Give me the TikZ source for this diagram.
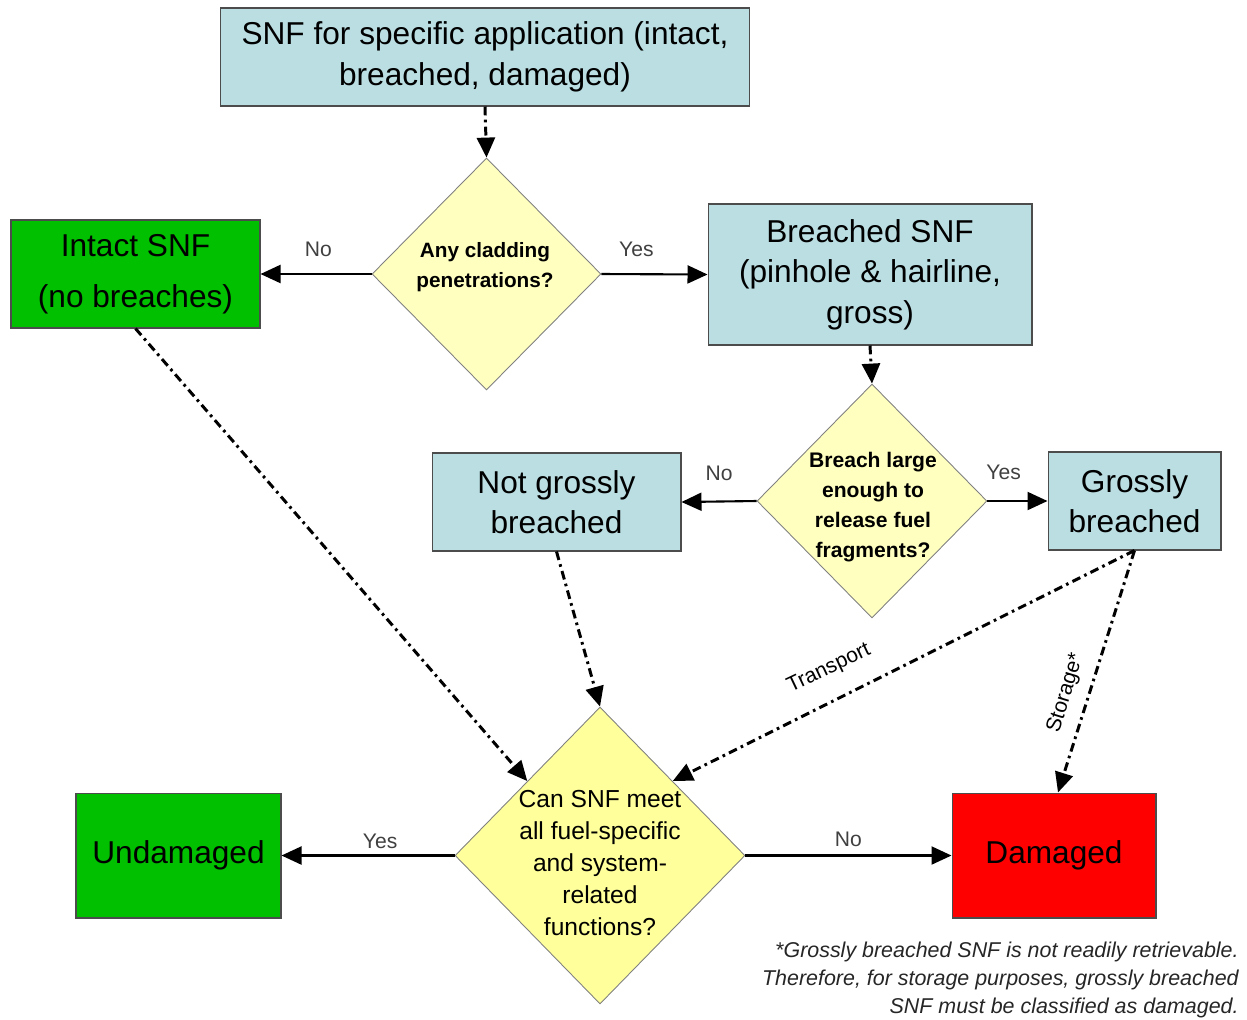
\documentclass[tikz,border=0pt]{standalone}
\usepackage{fontspec}
\setmainfont{Liberation Sans}
\usepackage{tikz}
\usetikzlibrary{arrows.meta,shapes.geometric}

\definecolor{snfblue}{RGB}{186,222,226}
\definecolor{snfgreen}{RGB}{0,192,0}
\definecolor{snfred}{RGB}{255,0,0}
\definecolor{paleyellow}{RGB}{255,255,192}
\definecolor{qyellow}{RGB}{255,255,155}

\begin{document}
\begin{tikzpicture}[x=0.02cm, y=-0.02cm,
    box/.style={draw=black!70, line width=0.6pt, inner sep=0pt, align=center,
                font=\fontsize{18}{23}\selectfont},
    dia/.style={diamond, draw=black!50, line width=0.5pt, inner sep=0pt},
    qtext/.style={align=center, inner sep=0pt},
    yn/.style={text=black!75, font=\fontsize{12}{14}\selectfont},
    flow/.style={line width=1.2pt, -{Triangle[length=0.4cm, width=0.36cm]}},
    dotflow/.style={flow, line width=1.7pt, dash pattern=on 5pt off 2.5pt on 1.5pt off 2.5pt},
]

\useasboundingbox (0,0) rectangle (1247,1019);

% boxes
\node[box, fill=snfblue, minimum width=10.6cm, minimum height=1.96cm] (snf) at (485,57)
    {SNF for specific application (intact,\\breached, damaged)};
\node[box, fill=snfgreen, minimum width=4.98cm, minimum height=2.16cm,
      font=\fontsize{18}{29}\selectfont] (intact) at (135.5,274) {Intact SNF\\(no breaches)};
\node[box, fill=snfblue, minimum width=6.48cm, minimum height=2.82cm] (breached) at (870,274.5)
    {Breached SNF\\(pinhole \& hairline,\\gross)};
\node[box, fill=snfblue, minimum width=4.98cm, minimum height=1.96cm] (notgross) at (556.5,502)
    {Not grossly\\breached};
\node[box, fill=snfblue, minimum width=3.46cm, minimum height=1.96cm] (gross) at (1134.5,501)
    {Grossly\\breached};
\node[box, fill=snfgreen, minimum width=4.1cm, minimum height=2.5cm] (undamaged) at (178.5,855.5)
    {Undamaged};
\node[box, fill=snfred, minimum width=4.08cm, minimum height=2.5cm] (damaged) at (1054,855.5)
    {Damaged};

% decisions
\node[dia, fill=paleyellow, minimum width=4.58cm, minimum height=4.64cm] (q1) at (486.5,274) {};
\node[dia, fill=paleyellow, minimum width=4.6cm, minimum height=4.68cm] (q2) at (872,501) {};
\node[dia, fill=qyellow, minimum width=5.8cm, minimum height=5.94cm] (q3) at (600,855.5) {};

\node[qtext, font=\bfseries\fontsize{11.8}{17}\selectfont] (q1text) at (485,267)
    {Any cladding\\penetrations?};
\node[qtext, font=\bfseries\fontsize{12}{17}\selectfont] (q2text) at (873,507)
    {Breach large\\enough to\\release fuel\\fragments?};
\node[qtext, font=\fontsize{14}{18.2}\selectfont] (q3text) at (600,863)
    {Can SNF meet\\all fuel-specific\\and system-\\related\\functions?};

% connectors
\draw[dotflow] (snf.south) -- (q1.north);
\draw[flow] (q1.west) -- (intact.east) node[yn, pos=0.48, above=6pt] {No};
\draw[flow] (q1.east) -- (breached.west) node[yn, pos=0.33, above=6pt] {Yes};
\draw[dotflow] (breached.south) -- (q2.north);
\draw[flow] (q2.west) -- (notgross.east) node[yn, midway, above=8pt] {No};
\draw[flow] (q2.east) -- (gross.west) node[yn, pos=0.27, above=8pt] {Yes};
\draw[dotflow] (intact.south) -- (q3.north west);
\draw[dotflow] (notgross.south) -- (q3.north);
\draw[dotflow] (gross.south) -- (q3.north east);
\draw[dotflow] (gross.south) -- ([xshift=0.08cm]damaged.north);
\draw[flow] (q3.west) -- (undamaged.east) node[yn, pos=0.43, above=0pt] {Yes};
\draw[flow] (q3.east) -- (damaged.west) node[yn, midway, above=1pt] {No};

\node[yn, rotate=25.4, text=black] (transport) at (829,669) {Transport};
\node[yn, rotate=73, text=black] (storage) at (1066,693) {Storage*};

% footnote
\node[anchor=north east, align=right, inner sep=0pt, text=black!85,
      font=\itshape\fontsize{12.2}{15.9}\selectfont] (note) at (1239,942)
    {*Grossly breached SNF is not readily retrievable.\\
     Therefore, for storage purposes, grossly breached\\
     SNF must be classified as damaged.};

\end{tikzpicture}
\end{document}
